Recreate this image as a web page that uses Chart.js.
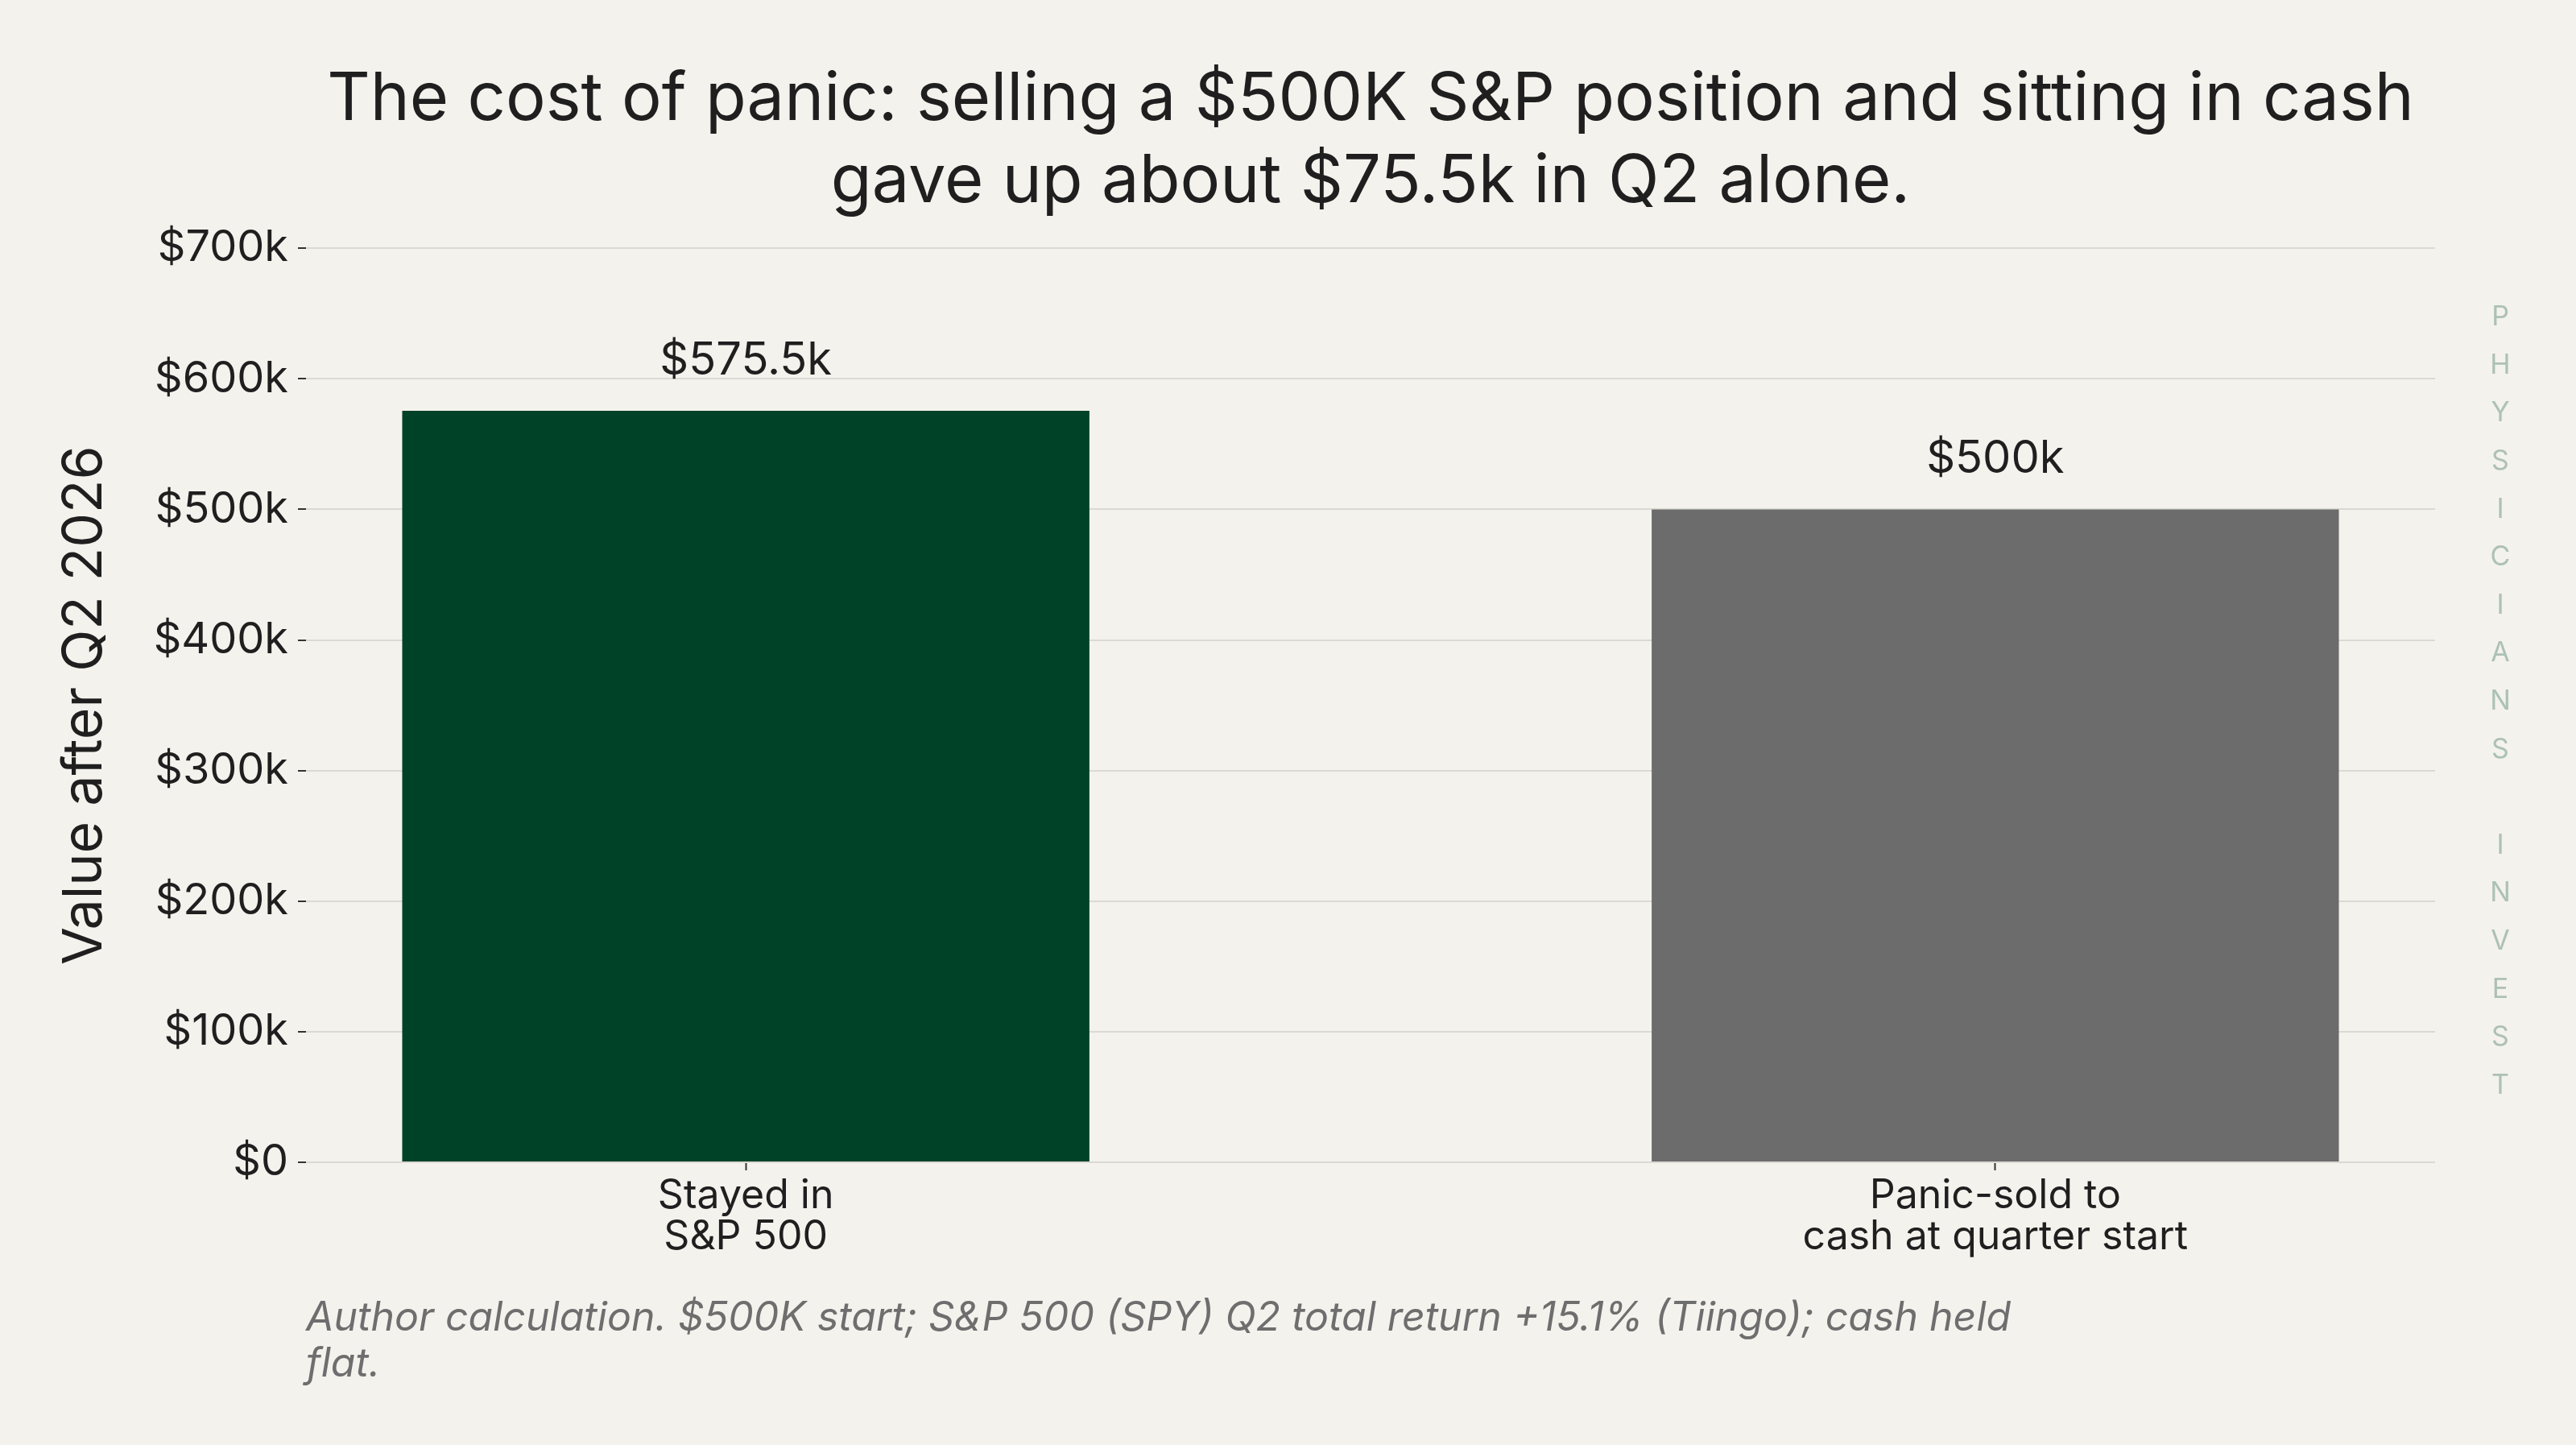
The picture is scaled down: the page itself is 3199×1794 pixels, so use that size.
<!DOCTYPE html>
<html>
<head>
<meta charset="utf-8">
<script src="https://cdn.jsdelivr.net/npm/chart.js@4.4.1/dist/chart.umd.min.js"></script>
<style>
  html, body { margin: 0; padding: 0; background: #f4f2ed; }
  #wrap { width: 3199px; height: 1794px; position: relative; }
</style>
</head>
<body>
<div id="wrap"><canvas id="barchart"></canvas></div>
<script>
// data
var categories = [['Stayed in', 'S&P 500'], ['Panic-sold to', 'cash at quarter start']];
var values = [575500, 500000];
var valueLabels = ['$575.5k', '$500k'];
var yTickLabels = ['$0', '$100k', '$200k', '$300k', '$400k', '$500k', '$600k', '$700k'];
var barColors = ['#004228', '#6b6c6b'];
var watermark = 'PHYSICIANS INVEST';

var ink = '#1f1f1f';

// value labels above each bar
var barLabels = {
    id: 'barLabels',
    afterDatasetsDraw: function(chart) {
        var ctx = chart.ctx;
        var meta = chart.getDatasetMeta(0);
        ctx.save();
        ctx.font = '56px Inter';
        ctx.fillStyle = ink;
        ctx.textAlign = 'center';
        ctx.textBaseline = 'middle';
        meta.data.forEach(function(bar, i) {
            ctx.fillText(valueLabels[i], bar.x, bar.y - 62);
        });
        ctx.restore();
    }
};

// vertical brand text on the right
var brand = {
    id: 'brand',
    afterDraw: function(chart) {
        var ctx = chart.ctx;
        ctx.save();
        ctx.font = '34px Inter';
        ctx.fillStyle = '#adc1b5';
        ctx.textAlign = 'center';
        ctx.textBaseline = 'middle';
        var letters = watermark.split('');
        for (var i = 0; i < letters.length; i++) {
            ctx.fillText(letters[i], 3105, 394 + i * 59.6);
        }
        ctx.restore();
    }
};

var chart1 = document.getElementById('barchart');

var myChart1 = new Chart(chart1, {
type: 'bar',
data: {
    datasets: [{
        data: values.map(function(v, i) { return {x: i + 1, y: v}; }),
        backgroundColor: barColors,
        borderWidth: 0,
        categoryPercentage: 1,
        barPercentage: 0.55,
    }]
},
options: {
    responsive: true,
    maintainAspectRatio: false,
    animation: false,
    devicePixelRatio: 1,
    layout: {
        padding: {left: 65, right: 175, top: 0, bottom: 72},
    },
    scales: {
        x: {
            type: 'linear',
            min: 0.648,
            max: 2.352,
            offset: false,
            afterBuildTicks: function(scale) {
                scale.ticks = categories.map(function(c, i) { return {value: i + 1}; });
            },
            afterFit: function(scale) { scale.height = 155; },
            grid: {
                display: true,
                offset: false,
                drawOnChartArea: false,
                drawTicks: true,
                tickLength: 10,
                tickColor: '#333333',
                tickWidth: 2,
            },
            border: {display: false},
            ticks: {
                autoSkip: false,
                maxRotation: 0,
                padding: 6,
                color: ink,
                font: {family: 'Inter', size: 50, lineHeight: 1.03},
                callback: function(v) { return categories[v - 1]; },
            },
        },
        y: {
            min: 0,
            max: 700000,
            afterFit: function(scale) { scale.width = 315; },
            grid: {
                color: '#dcd9d3',
                lineWidth: 2,
                drawTicks: true,
                tickLength: 10,
                tickColor: '#333333',
                tickWidth: 2,
            },
            border: {display: false},
            ticks: {
                stepSize: 100000,
                padding: 12,
                color: ink,
                font: {family: 'Inter', size: 54},
                callback: function(v, i) { return yTickLabels[i]; },
            },
            title: {
                display: true,
                text: 'Value after Q2 2026',
                color: ink,
                font: {family: 'Inter', size: 68},
                padding: {top: 0, bottom: 0},
            },
        },
    },
    plugins: {
        legend: {
            display: false,
        },
        tooltip: {enabled: false},
        title: {
            display: true,
            fullSize: false,
            position: 'top',
            align: 'center',
            text: ['The cost of panic: selling a $500K S&P position and sitting in cash', 'gave up about $75.5k in Q2 alone.'],
            color: ink,
            font: {family: 'Inter', size: 83, weight: 'normal', lineHeight: 1.23},
            padding: {top: 73, bottom: 31},
        },
        subtitle: {
            display: true,
            fullSize: false,
            position: 'bottom',
            align: 'start',
            text: ['Author calculation. $500K start; S&P 500 (SPY) Q2 total return +15.1% (Tiingo); cash held', 'flat.'],
            color: '#6e6e6e',
            font: {family: 'Inter', size: 50, style: 'italic', lineHeight: 1.14},
            padding: {top: 10, bottom: 0},
        },
    },
},
plugins: [barLabels, brand]
});
</script>
</body>
</html>
